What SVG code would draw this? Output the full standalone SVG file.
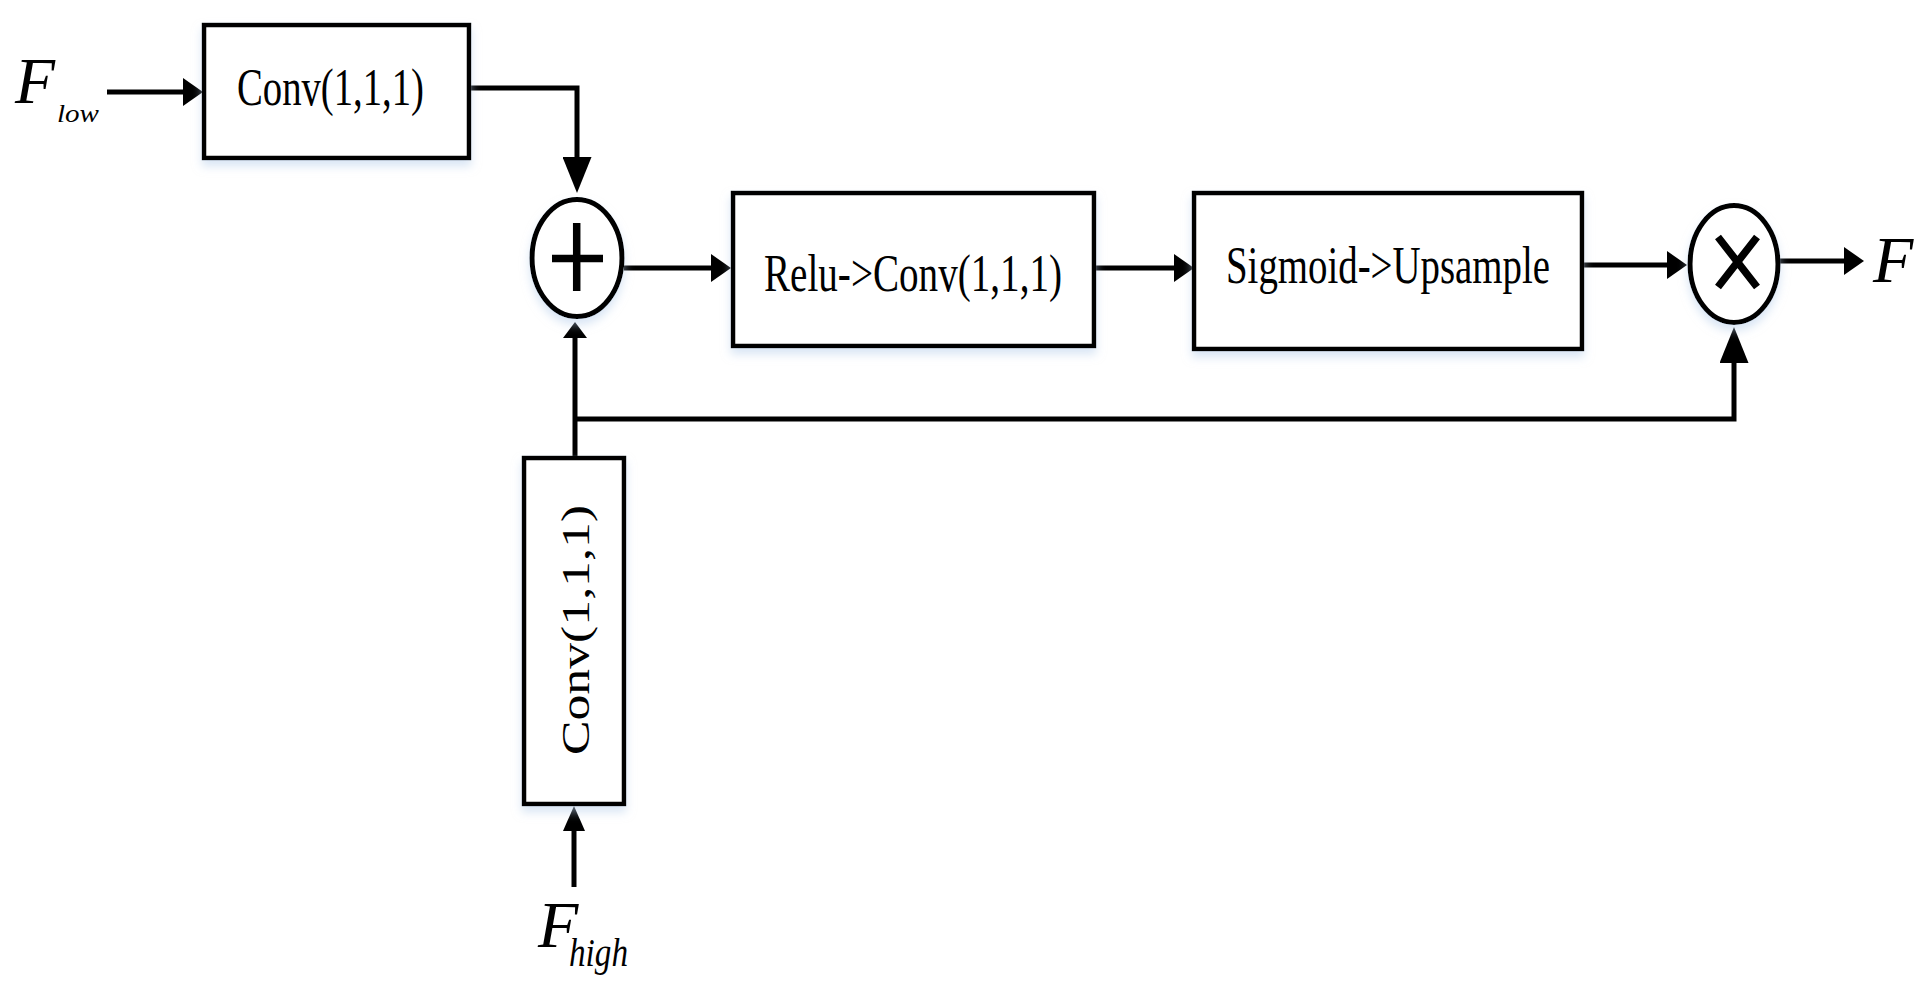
<svg xmlns="http://www.w3.org/2000/svg" width="1920" height="993" viewBox="0 0 1920 993">
<style>
.box{fill:#fff;stroke:#000;stroke-width:4.5}
.op{fill:#fff;stroke:#000;stroke-width:5}
.sym{stroke:#000;stroke-width:7.5;fill:none}
.wire{fill:none;stroke:#000;stroke-width:5}
.lbl{font-family:"Liberation Serif","Times New Roman",serif;fill:#000}
.it{font-family:"Liberation Serif","Times New Roman",serif;font-style:italic;fill:#000}
.sh{filter:url(#shadow)}
</style>
<defs>
<filter id="shadow" x="-20%" y="-20%" width="140%" height="150%">
<feDropShadow dx="0" dy="6" stdDeviation="5" flood-color="#b9d0ec" flood-opacity="0.55"/>
</filter>
<marker id="arr" viewBox="0 0 20 28" markerWidth="20" markerHeight="28" refX="10" refY="14" orient="auto" markerUnits="userSpaceOnUse"><path d="M0,0 L20,14 L0,28 Z" fill="#000"/></marker>
<marker id="arrL" viewBox="0 0 36 29" markerWidth="36" markerHeight="29" refX="18" refY="14.5" orient="auto" markerUnits="userSpaceOnUse"><path d="M0,0 L36,14.5 L0,29 Z" fill="#000"/></marker>
<marker id="arrM" viewBox="0 0 25 22" markerWidth="25" markerHeight="22" refX="12" refY="11" orient="auto" markerUnits="userSpaceOnUse"><path d="M0,0 L25,11 L0,22 Z" fill="#000"/></marker>
<marker id="arrS" viewBox="0 0 16 24" markerWidth="16" markerHeight="24" refX="8" refY="12" orient="auto" markerUnits="userSpaceOnUse"><path d="M0,0 L16,12 L0,24 Z" fill="#000"/></marker>
</defs>
<rect width="1920" height="993" fill="#fff"/>
<g id="connectors">
<path class="wire" d="M107,92 H193" marker-end="url(#arr)"/>
<path class="wire" d="M469,88 H577 V175" marker-end="url(#arrL)"/>
<path class="wire" d="M624,268 H721" marker-end="url(#arr)"/>
<path class="wire" d="M1094,268 H1184" marker-end="url(#arr)"/>
<path class="wire" d="M1582,265 H1677" marker-end="url(#arr)"/>
<path class="wire" d="M1780,261 H1854" marker-end="url(#arr)"/>
<path class="wire" d="M574,887 V819" marker-end="url(#arrM)"/>
<path class="wire" d="M575,458 V330" marker-end="url(#arrS)"/>
<path class="wire" d="M575,419 H1734 V345" marker-end="url(#arrL)"/>
</g>
<g id="n-flow">
<text class="it" x="15" y="103" font-size="66" textLength="40" lengthAdjust="spacingAndGlyphs">F</text>
<text class="it" x="57" y="122" font-size="26" textLength="42" lengthAdjust="spacingAndGlyphs">low</text>
</g>
<g id="n-conv-top">
<rect class="box sh" x="204" y="25" width="265" height="133"/>
<text class="lbl" x="237" y="105" font-size="53" textLength="187" lengthAdjust="spacingAndGlyphs">Conv(1,1,1)</text>
</g>
<g id="n-plus">
<ellipse class="op sh" cx="577" cy="258" rx="45" ry="58.5"/>
<path class="sym" d="M552,258.5 H603 M576.7,223 V291"/>
</g>
<g id="n-relu">
<rect class="box sh" x="733" y="193" width="361" height="153"/>
<text class="lbl" x="764" y="291" font-size="52" textLength="298" lengthAdjust="spacingAndGlyphs">Relu-&gt;Conv(1,1,1)</text>
</g>
<g id="n-sigmoid">
<rect class="box sh" x="1194" y="193" width="388" height="156"/>
<text class="lbl" x="1226" y="283" font-size="52" textLength="324" lengthAdjust="spacingAndGlyphs">Sigmoid-&gt;Upsample</text>
</g>
<g id="n-times">
<ellipse class="op sh" cx="1734" cy="264" rx="44" ry="58.5"/>
<path class="sym" d="M1718,237 L1757,287 M1757,237 L1718,287"/>
</g>
<g id="n-out">
<text class="it" x="1873" y="282" font-size="66">F</text>
</g>
<g id="n-conv-bottom">
<rect class="box sh" x="524" y="458" width="100" height="346"/>
<text class="lbl" x="589" y="755" font-size="40" textLength="250" lengthAdjust="spacingAndGlyphs" transform="rotate(-90 589 755)">Conv(1,1,1)</text>
</g>
<g id="n-fhigh">
<text class="it" x="538" y="947" font-size="66">F</text>
<text class="it" x="569" y="966" font-size="40" textLength="59" lengthAdjust="spacingAndGlyphs">high</text>
</g>
</svg>
